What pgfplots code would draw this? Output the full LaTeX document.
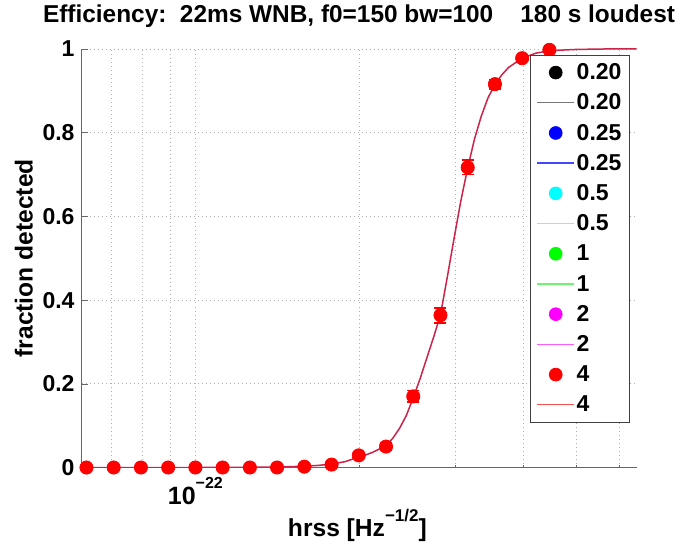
\documentclass[border=0pt]{standalone}
\usepackage{fontspec}
\setmainfont{Liberation Sans}
\usepackage{pgfplots}
\pgfplotsset{compat=1.18}
\definecolor{fitcol}{RGB}{205,35,75}
\definecolor{gridcol}{RGB}{175,175,175}
\definecolor{mblue}{RGB}{0,0,255}
\definecolor{mcyan}{RGB}{0,255,255}
\definecolor{mgreen}{RGB}{0,255,0}
\definecolor{mmagenta}{RGB}{255,0,255}
\definecolor{mred}{RGB}{255,0,0}
\definecolor{lgray}{RGB}{120,120,120}
\definecolor{lblue}{RGB}{70,70,255}
\definecolor{lcyan}{RGB}{110,250,250}
\definecolor{lgreen}{RGB}{110,245,110}
\definecolor{lmagenta}{RGB}{255,90,255}
\definecolor{lred}{RGB}{255,80,80}

\begin{document}
\begin{tikzpicture}
\useasboundingbox (-40.85pt,-39.25pt) rectangle (301.15pt,233.75pt);
\begin{axis}[
  at={(0,0)}, anchor=south west,
  scale only axis, width=277.5pt, height=209.25pt,
  xmode=log, xmin=6.18e-23, xmax=6.4565e-22,
  ymin=0, ymax=1,
  axis x line*=bottom, axis y line*=left, axis line style={-, black!60},
  tick align=inside, major tick length=3pt, minor tick length=1.5pt,
  tick style={black!60},
  xtick={1e-22},
  minor xtick={7e-23,8e-23,9e-23,2e-22,3e-22,4e-22,5e-22,6e-22},
  xticklabels={10\raisebox{7.6pt}{\fontsize{8}{9}\selectfont −22}},
  xticklabel style={anchor=base, yshift=-18.25pt, font=\bfseries\fontsize{12.5}{14}\selectfont},
  ytick={0,0.2,0.4,0.6,0.8,1},
  yticklabel style={font=\bfseries\fontsize{11.5}{13}\selectfont, /pgf/number format/assume math mode=true},
  xmajorgrids, xminorgrids, ymajorgrids,
  major grid style={gridcol, dash pattern=on 0.5pt off 1.5pt},
  minor grid style={gridcol, dash pattern=on 0.5pt off 1.5pt},
  title={Efficiency:\ \ 22ms WNB, f0=150 bw=100\ \ \ \ 180 s loudest},
  title style={at={(axis description cs:0.5,1)}, anchor=base, yshift=7pt, font=\bfseries\fontsize{12.2}{14}\selectfont},
  xlabel={hrss [Hz\raisebox{7.5pt}{\fontsize{8.5}{10}\selectfont −1/2}]},
  xlabel style={at={(axis description cs:0.497,0)}, anchor=base, yshift=-34.25pt, font=\bfseries\fontsize{12.3}{14}\selectfont},
  ylabel={fraction detected},
  ylabel style={at={(axis description cs:-0.1041,0.5)}, anchor=center, font=\bfseries\fontsize{12.3}{14}\selectfont},
  legend image code/.code={\draw[mark repeat=2,mark phase=2,#1] plot coordinates {(0pt,0pt) (9.15pt,0pt) (18.3pt,0pt)};},
  legend cell align=left,
  legend style={at={(axis description cs:0.988,0.9857)}, anchor=north east,
    draw=black!75, fill=white, font=\bfseries\fontsize{11.5}{13}\selectfont,
    inner xsep=3pt, inner ysep=2pt, row sep=1.9pt,
    nodes={inner xsep=1pt, inner ysep=2pt, text height=8.2pt, text depth=1pt}},
]
% legend entries (all six thresholds give the same curve; red lies on top)
\addlegendimage{only marks, mark=*, mark size=3.2pt, black}
\addlegendentry{0.20}
\addlegendimage{draw=lgray, line width=0.7pt}
\addlegendentry{0.20}
\addlegendimage{only marks, mark=*, mark size=3.2pt, mblue}
\addlegendentry{0.25}
\addlegendimage{draw=lblue, line width=0.7pt}
\addlegendentry{0.25}
\addlegendimage{only marks, mark=*, mark size=3.2pt, mcyan}
\addlegendentry{0.5}
\addlegendimage{draw=lcyan, line width=0.7pt}
\addlegendentry{0.5}
\addlegendimage{only marks, mark=*, mark size=3.2pt, mgreen}
\addlegendentry{1}
\addlegendimage{draw=lgreen, line width=0.7pt}
\addlegendentry{1}
\addlegendimage{only marks, mark=*, mark size=3.2pt, mmagenta}
\addlegendentry{2}
\addlegendimage{draw=lmagenta, line width=0.7pt}
\addlegendentry{2}
\addlegendimage{only marks, mark=*, mark size=3.2pt, mred}
\addlegendentry{4}
\addlegendimage{draw=lred, line width=0.7pt}
\addlegendentry{4}

% fitted efficiency curve
\addplot[fitcol, line width=0.75pt, forget plot] coordinates {
  (6.18e-23,0) (1.0e-22,0) (1.2589e-22,0.0005) (1.4125e-22,0.0012)
  (1.5849e-22,0.003) (1.6788e-22,0.005) (1.7783e-22,0.008) (1.8836e-22,0.014)
  (1.9953e-22,0.025) (2.0535e-22,0.030) (2.1135e-22,0.036) (2.1752e-22,0.044)
  (2.2387e-22,0.052) (2.3041e-22,0.070) (2.3714e-22,0.094) (2.4409e-22,0.125)
  (2.5119e-22,0.167) (2.5852e-22,0.212) (2.6607e-22,0.262) (2.7384e-22,0.312)
  (2.8184e-22,0.365) (2.9007e-22,0.455) (2.9854e-22,0.548) (3.0726e-22,0.638)
  (3.1623e-22,0.716) (3.2546e-22,0.785) (3.3497e-22,0.840) (3.4475e-22,0.884)
  (3.5481e-22,0.915) (3.6517e-22,0.938) (3.7584e-22,0.956) (3.9811e-22,0.978)
  (4.2170e-22,0.990) (4.4668e-22,0.996) (5.0119e-22,0.999) (5.6234e-22,1.0)
  (6.4565e-22,1.0)
};

% measured efficiency with binomial errors
\addplot[mred, only marks, mark=*, mark size=3.3pt, forget plot,
  error bars/.cd, y dir=both, y explicit,
  error bar style={mred, line width=0.9pt},
  error mark options={mred, mark size=3pt, rotate=90, line width=0.9pt}]
coordinates {
  (6.3096e-23,0) +- (0,0)
  (7.0795e-23,0) +- (0,0)
  (7.9433e-23,0) +- (0,0)
  (8.9125e-23,0) +- (0,0)
  (1.0e-22,0) +- (0,0)
  (1.1220e-22,0) +- (0,0)
  (1.2589e-22,0) +- (0,0)
  (1.4125e-22,0) +- (0,0)
  (1.5849e-22,0.002) +- (0,0.002)
  (1.7783e-22,0.007) +- (0,0.003)
  (1.9953e-22,0.029) +- (0,0.006)
  (2.2387e-22,0.050) +- (0,0.008)
  (2.5119e-22,0.170) +- (0,0.014)
  (2.8184e-22,0.364) +- (0,0.018)
  (3.1623e-22,0.717) +- (0,0.017)
  (3.5481e-22,0.916) +- (0,0.011)
  (3.9811e-22,0.978) +- (0,0.005)
  (4.4668e-22,0.998) +- (0,0.002)
};
\end{axis}
\end{tikzpicture}
\end{document}
